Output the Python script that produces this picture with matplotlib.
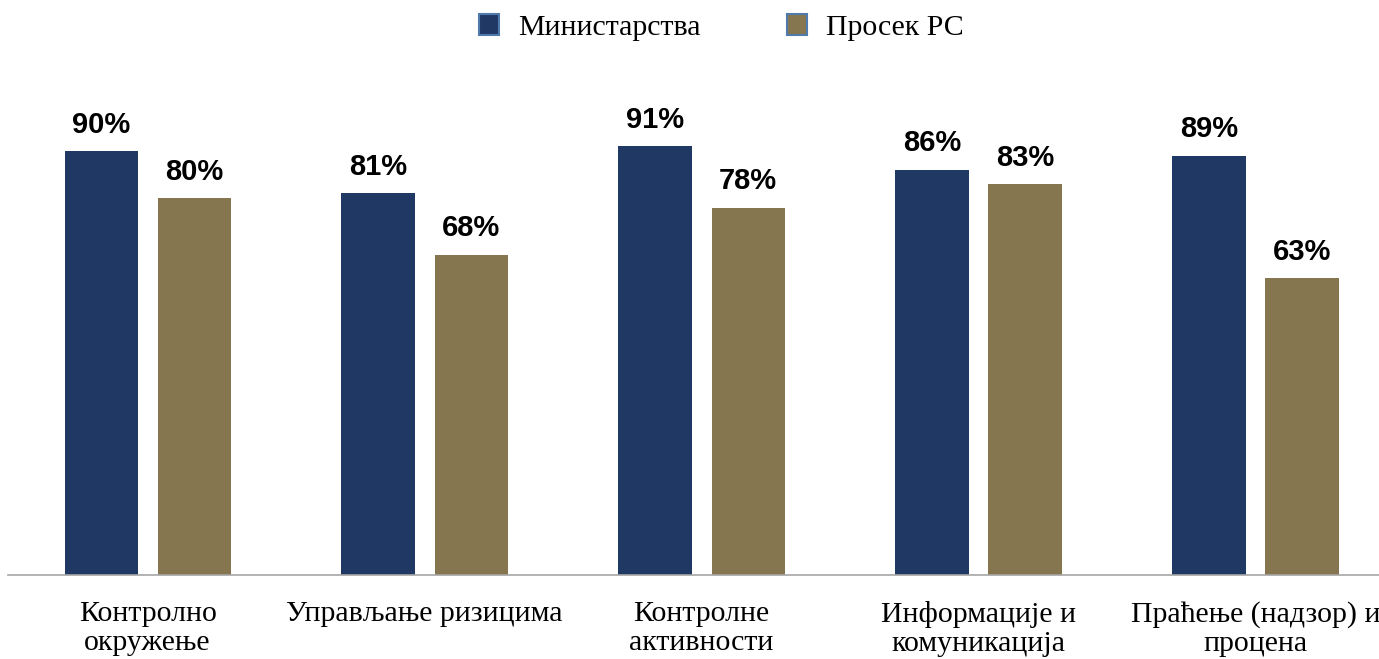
import matplotlib
matplotlib.use("Agg")
import matplotlib.pyplot as plt
import numpy as np
from matplotlib.patches import Patch

# data
categories = ["Контролно\nокружење", "Управљање ризицима", "Контролне\nактивности",
              "Информације и\nкомуникација", "Праћење (надзор) и\nпроцена"]
ministarstva = [0.90, 0.81, 0.91, 0.86, 0.89]
prosek_rs = [0.80, 0.68, 0.78, 0.83, 0.63]
series_names = ["Министарства", "Просек РС"]

blue = "#1F3864"
tan = "#857650"

fig = plt.figure(figsize=(13.79, 6.59), dpi=100)
ax = fig.add_axes([8 / 1379, 84 / 659, 1 - 8 / 1379, 471 / 659])

x = np.arange(len(categories))
w = 0.264
off = 0.168
b1 = ax.bar(x - off, ministarstva, w, color=blue)
b2 = ax.bar(x + off, prosek_rs, w, color=tan)

for bars, vals in [(b1, ministarstva), (b2, prosek_rs)]:
    for rect, v in zip(bars, vals):
        ax.annotate(f"{v:.0%}", (rect.get_x() + rect.get_width() / 2, rect.get_height()),
                    xytext=(0, 9), textcoords="offset points", ha="center", va="bottom",
                    fontsize=21, fontweight="bold", family="Liberation Sans")

ax.set_xlim(-0.504, 4.446)
ax.set_ylim(0, 1.0)
ax.set_yticks([])
ax.set_xticks(x)
ax.set_xticklabels(categories, family="Liberation Serif", fontsize=21.5, linespacing=1.12)
ax.tick_params(axis="x", length=0, pad=19)
for s in ["top", "right", "left"]:
    ax.spines[s].set_visible(False)
ax.spines["bottom"].set_color("#A6A6A6")
ax.spines["bottom"].set_linewidth(1.2)

handles = [Patch(facecolor=blue, edgecolor="#4F7AAB", linewidth=1.5),
           Patch(facecolor=tan, edgecolor="#4F7AAB", linewidth=1.5)]
fig.legend(handles, series_names, loc="center", bbox_to_anchor=(0.523, 0.958), ncol=2,
           frameon=False, prop={"family": "Liberation Serif", "size": 21.5},
           handlelength=0.67, handleheight=0.67, handletextpad=0.63, columnspacing=2.9)

fig.savefig("out.png", dpi=100)
